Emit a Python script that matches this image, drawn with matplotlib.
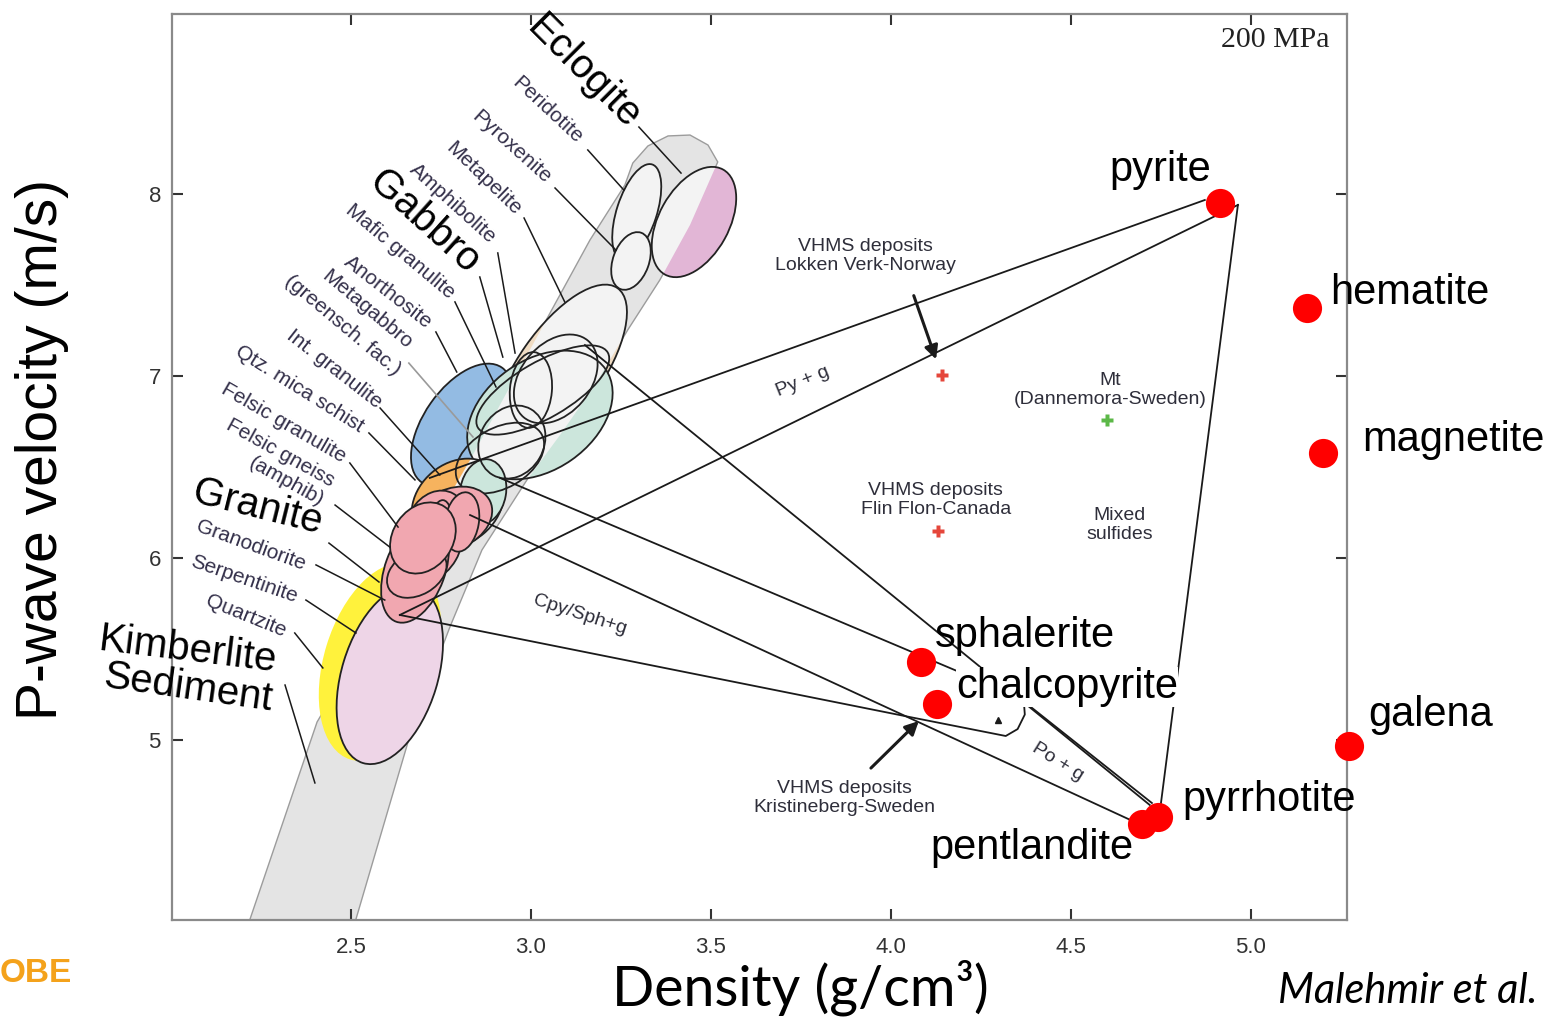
"""
Density vs P-wave velocity for common crystalline rocks and ore minerals
"""

import matplotlib.pyplot as plt
from matplotlib.patches import Ellipse, Polygon
from matplotlib.transforms import Affine2D, ScaledTranslation

SANS = ["Liberation Sans", "DejaVu Sans"]
plt.rcParams["font.family"] = SANS

# ore minerals: density (g/cm3), Vp (km/s)
minerals = ["pyrite", "hematite", "magnetite", "galena", "sphalerite",
            "chalcopyrite", "pyrrhotite", "pentlandite"]
mineral_density = [4.914, 5.156, 5.200, 5.272, 4.083, 4.128, 4.742, 4.697]
mineral_vp = [7.95, 7.374, 6.577, 4.967, 5.429, 5.198, 4.577, 4.538]
mineral_label_density = [4.747, 5.219, 5.308, 5.325, 4.122, 4.181, 4.811, 4.392]
mineral_label_vp = [8.132, 7.456, 6.648, 5.137, 5.571, 5.291, 4.670, 4.407]
mineral_label_ha = ["center", "left", "left", "left", "left", "left", "left", "center"]

# general rock trend (outline of the grey band)
band_density = [2.200, 2.406, 2.622, 2.831, 2.997, 3.164, 3.261, 3.283, 3.325,
                3.381, 3.442, 3.492, 3.519, 3.442, 3.358, 3.269, 3.178, 3.081,
                2.989, 2.864, 2.775, 2.675, 2.497]
band_vp = [3.901, 5.099, 5.824, 6.538, 7.143, 7.747, 8.049, 8.170, 8.264,
           8.319, 8.324, 8.269, 8.176, 7.830, 7.527, 7.253, 6.951, 6.676,
           6.429, 6.044, 5.621, 5.099, 3.901]

# rock fields: centre (density, Vp), half axes (px) and tilt (deg)
field_density = [3.453, 3.294, 3.278, 3.081, 2.808, 3.025, 2.797, 2.867,
                 3.000, 3.069, 3.033, 2.947, 2.914,
                 2.781, 2.736, 2.719, 2.750, 2.725, 2.808, 2.678, 2.683, 2.700]
field_vp = [7.846, 7.901, 7.632, 7.033, 6.731, 6.786, 6.302, 6.363,
            6.923, 6.984, 6.923, 6.637, 6.549,
            6.214, 6.187, 6.071, 6.181, 6.181, 6.198, 5.934, 5.918, 6.110]
field_major = [60, 50, 30, 100, 70, 80, 50, 33,
               38, 50, 75, 38, 48,
               42, 35, 40, 25, 22, 30, 55, 32, 38]
field_minor = [35, 20, 18, 42, 38, 55, 40, 23,
               21, 35, 28, 32, 30,
               30, 28, 30, 11, 12, 17, 30, 22, 30]
field_tilt = [61, 72, 70, 55, 55, 35, 40, 80,
              85, 50, 30, 60, 30,
              25, 60, 60, 85, 80, 80, 70, 30, 55]
field_color = ["#e2b6d6", "#f3f3f3", "#f3f3f3", "#f0dcc3", "#93bbe3", "#cce6dc",
               "#f6b35e", "#cce6dc",
               "none", "none", "none", "none", "none",
               "#f1a7b0", "#f1a7b0", "#f1a7b0", "#f1a7b0", "#f1a7b0",
               "#f1a7b0", "#f1a7b0", "#f1a7b0", "#f1a7b0"]
field_light_in_band = [True, False, False, True, True, True, True, False,
                       False, False, False, False, False,
                       False, False, False, False, False, False, False, False, False]

# quartzite / serpentinite fields
low_density = [2.581, 2.608]
low_vp = [5.429, 5.357]
low_major = [102, 92]
low_minor = [56, 48]
low_tilt = [73, 73]
low_color = ["#fff23c", "#eed5e7"]

# mixing lines between the host rocks and the sulfides
tie_lines = [
    ([4.872, 2.719], [7.967, 6.440]),
    ([4.964, 2.636], [7.940, 5.687]),
    ([2.636, 4.053, 4.319, 4.352, 4.372, 4.369], [5.687, 5.126, 5.022, 5.060, 5.140, 5.220]),
    ([4.389, 4.725], [5.181, 4.654]),
    ([2.831, 4.678], [6.236, 4.549]),
    ([2.914, 4.197], [6.440, 5.368]),
    ([3.150, 4.719], [7.170, 4.643]),
    ([4.964, 4.747], [7.940, 4.604]),
]

# rock names: text end point, rotation, leader line
rock_labels = ["Peridotite", "Pyroxenite", "Metapelite", "Amphibolite",
               "Mafic granulite", "Anorthosite", "Metagabbro", "(greensch. fac.)",
               "Int. granulite", "Qtz. mica schist", "Felsic granulite",
               "Felsic gneiss", "(amphib)", "Granodiorite", "Serpentinite", "Quartzite"]
rock_label_density = [3.136, 3.047, 2.964, 2.897, 2.781, 2.719, 2.664, 2.631,
                      2.581, 2.531, 2.483, 2.450, 2.422, 2.372, 2.350, 2.317]
rock_label_vp = [8.297, 8.077, 7.901, 7.747, 7.445, 7.280, 7.170, 7.022,
                 6.841, 6.714, 6.549, 6.418, 6.308, 5.962, 5.786, 5.593]
rock_label_rot = [-43, -42, -44, -42, -40, -38, -40, -40,
                  -38, -32, -30, -29, -29, -20, -19, -22]

leaders = [
    ([3.300, 3.417], [8.368, 8.115]),
    ([3.158, 3.258], [8.242, 8.022]),
    ([3.067, 3.236], [8.033, 7.692]),
    ([2.981, 3.094], [7.868, 7.407]),
    ([2.908, 2.956], [7.676, 7.126]),
    ([2.858, 2.922], [7.544, 7.104]),
    ([2.789, 2.903], [7.407, 6.940]),
    ([2.736, 2.794], [7.242, 7.022]),
    ([2.581, 2.747], [6.824, 6.456]),
    ([2.550, 2.678], [6.687, 6.429]),
    ([2.497, 2.631], [6.522, 6.170]),
    ([2.456, 2.608], [6.291, 6.060]),
    ([2.439, 2.578], [6.082, 5.868]),
    ([2.403, 2.594], [5.962, 5.769]),
    ([2.375, 2.514], [5.769, 5.588]),
    ([2.344, 2.422], [5.588, 5.396]),
    ([2.317, 2.400], [5.302, 4.764]),
]
metagabbro_leader = ([2.661, 2.839], [7.071, 6.665])

big_labels = ["Eclogite", "Gabbro", "Granite", "Kimberlite", "Sediment"]
big_label_density = [3.147, 2.703, 2.242, 2.047, 2.047]
big_label_vp = [8.670, 7.846, 6.280, 5.495, 5.286]
big_label_rot = [-45, -42, -14, -7, -8]

# deposit examples
deposit_density = [4.142, 4.131]
deposit_vp = [7.005, 6.148]
mt_density = [4.600]
mt_vp = [6.758]
kristineberg_density = [4.297]
kristineberg_vp = [5.110]

notes = ["VHMS deposits\nLokken Verk-Norway", "Py + g", "Mt\n(Dannemora-Sweden)",
         "VHMS deposits\nFlin Flon-Canada", "Mixed\nsulfides", "Cpy/Sph+g", "Po + g",
         "VHMS deposits\nKristineberg-Sweden"]
note_density = [3.928, 3.756, 4.608, 4.125, 4.636, 3.136, 4.464, 3.872]
note_vp = [7.659, 6.967, 6.923, 6.319, 6.181, 5.687, 4.879, 4.681]
note_rot = [0, 22, 0, 0, 0, -18, -32, 0]

x_ticks = [2.5, 3.0, 3.5, 4.0, 4.5, 5.0]
y_ticks = [5, 6, 7, 8]

W, H = 1552, 1019
fig = plt.figure(figsize=(W / 100, H / 100), dpi=100)
ax = fig.add_axes([172 / W, 1 - 920 / H, (1347 - 172) / W, (920 - 14) / H])
ax.set_xlim(2.003, 5.267)
ax.set_ylim(4.011, 8.989)


def field_transform(d, v, a, b, tilt):
    return Affine2D().scale(a, b).rotate_deg(tilt) + ScaledTranslation(d, v, ax.transData)


band_xy = list(zip(band_density, band_vp))
ax.add_patch(Polygon(band_xy, closed=True, facecolor="#e4e4e4", edgecolor="#9c9c9c",
                     lw=1.0, zorder=1))

for i in range(len(low_density)):
    tr = field_transform(low_density[i], low_vp[i], low_major[i], low_minor[i], low_tilt[i])
    ax.add_patch(Ellipse((0, 0), 2, 2, transform=tr, facecolor=low_color[i],
                         edgecolor="none", zorder=2 + i * 0.1))
ax.add_patch(Ellipse((0, 0), 2, 2, transform=field_transform(low_density[1], low_vp[1],
                     low_major[1], low_minor[1], low_tilt[1]),
                     fill=False, edgecolor="#222222", lw=1.3, zorder=2.2))

for i in range(len(field_density)):
    tr = field_transform(field_density[i], field_vp[i], field_major[i],
                         field_minor[i], field_tilt[i])
    z = 3 + i * 0.01
    face = Ellipse((0, 0), 2, 2, transform=tr, facecolor=field_color[i],
                   edgecolor="none", zorder=z)
    ax.add_patch(face)
    if field_light_in_band[i]:
        inner = Polygon(band_xy, closed=True, facecolor="#f3f3f3", edgecolor="none", zorder=z)
        ax.add_patch(inner)
        inner.set_clip_path(face)
    ax.add_patch(Ellipse((0, 0), 2, 2, transform=tr, fill=False, edgecolor="#222222",
                         lw=1.3, zorder=z))

for xs, ys in tie_lines:
    ax.plot(xs, ys, color="#1a1a1a", lw=1.3, zorder=6)
for xs, ys in leaders:
    ax.plot(xs, ys, color="#1a1a1a", lw=1.1, zorder=6)
ax.plot(*metagabbro_leader, color="#9a9a9a", lw=1.2, zorder=6)

for name, d, v, r in zip(rock_labels, rock_label_density, rock_label_vp, rock_label_rot):
    ax.text(d, v, name, rotation=r, rotation_mode="anchor", ha="right", va="center",
            fontsize=15, color="#34304a", zorder=7)

for name, d, v, r in zip(big_labels, big_label_density, big_label_vp, big_label_rot):
    ax.text(d, v, name, rotation=r, rotation_mode="anchor", ha="center", va="center",
            fontsize=29, color="black", zorder=9)

for name, d, v, r in zip(notes, note_density, note_vp, note_rot):
    ax.text(d, v, name, rotation=r, rotation_mode="anchor", ha="center", va="center",
            fontsize=14, color="#2e2e3a", linespacing=1.2, zorder=7)

ax.plot(deposit_density, deposit_vp, "P", color="#e5463b", ms=8, mec="none", zorder=7)
ax.plot(mt_density, mt_vp, "P", color="#5cb848", ms=9, mec="none", zorder=7)
ax.plot(kristineberg_density, kristineberg_vp, "^", color="#1a1a1a", ms=5, zorder=7)

arrow = dict(arrowstyle="-|>", color="#1a1a1a", lw=2.2, mutation_scale=20)
ax.annotate("", xy=(4.128, 7.077), xytext=(4.061, 7.456), arrowprops=arrow, zorder=7)
ax.annotate("", xy=(4.083, 5.115), xytext=(3.939, 4.835), arrowprops=arrow, zorder=7)

ax.plot(mineral_density, mineral_vp, "o", color="#ff0000", ms=21, mec="none",
        zorder=8, clip_on=False)
for name, d, v, ha in zip(minerals, mineral_label_density, mineral_label_vp, mineral_label_ha):
    t = ax.text(d, v, name, ha=ha, va="center", fontsize=30, color="black", zorder=9,
                clip_on=False)
    if name == "chalcopyrite":
        t.set_bbox(dict(facecolor="white", edgecolor="none", pad=0))

ax.text(5.067, 8.846, "200 MPa", ha="center", va="center", fontsize=21.5, color="#222222",
        family=["Liberation Serif", "DejaVu Serif"])

ax.set_xticks(x_ticks)
ax.set_xticklabels([f"{t:.1f}" for t in x_ticks])
ax.set_yticks(y_ticks)
ax.tick_params(direction="in", length=8, width=1.5, color="#333333", top=True,
               right=True, labelsize=16, labelcolor="#333333")
ax.tick_params(axis="x", pad=12)
ax.tick_params(axis="y", pad=8)
for s in ax.spines.values():
    s.set_color("#8a8a8a")
    s.set_linewidth(1.6)

fig.text(42 / W, 1 - 450 / H, "P-wave velocity (m/s)", rotation=90, ha="center",
         va="center", fontsize=41)
fig.text(800 / W, 1 - 1006 / H, "Density (g/cm³)", ha="center", va="baseline",
         fontsize=40, family=["Lato", "DejaVu Sans"])
fig.text(1278 / W, 1 - 1003 / H, "Malehmir et al.", ha="left", va="baseline", fontsize=30,
         style="italic", family=["Lato", "DejaVu Sans"])
fig.text(0, 1 - 974 / H, "OBE", ha="left", va="center", fontsize=24,
         fontweight="bold", color="#f4a21b",
         family=["Liberation Sans Narrow", "Liberation Sans", "DejaVu Sans"])

fig.savefig("out.png", dpi=100)
